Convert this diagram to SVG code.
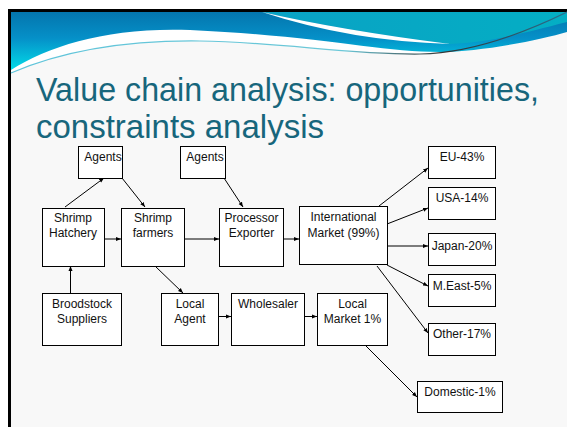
<svg xmlns="http://www.w3.org/2000/svg" width="567" height="427" viewBox="0 0 567 427">
<style>
.box{fill:#fff;stroke:#000;stroke-width:1}
.t{font-family:"Liberation Sans",Arial,sans-serif;font-size:12px;text-anchor:middle;fill:#111}
.title{font-family:"Liberation Sans",Arial,sans-serif;font-size:33px;fill:#17667c}
.c{stroke:#000;stroke-width:1;fill:none;marker-end:url(#ah)}
</style>
<defs>
<marker id="ah" viewBox="0 0 10 10" refX="10" refY="5" markerWidth="5" markerHeight="5" orient="auto" markerUnits="userSpaceOnUse"><path d="M0,1 L10,5 L0,9 Z" fill="#000"/></marker>
<linearGradient id="hg" gradientUnits="userSpaceOnUse" x1="0" y1="12" x2="0" y2="70">
<stop offset="0" stop-color="#0475ad"/><stop offset="0.45" stop-color="#0590c8"/><stop offset="1" stop-color="#02dbe8"/>
</linearGradient>
<linearGradient id="tg" gradientUnits="userSpaceOnUse" x1="262" y1="0" x2="567" y2="0">
<stop offset="0" stop-color="#0aa2c4"/><stop offset="1" stop-color="#04aec4"/>
</linearGradient>
<linearGradient id="lg" gradientUnits="userSpaceOnUse" x1="11" y1="0" x2="567" y2="0">
<stop offset="0" stop-color="#5fc4da"/><stop offset="0.6" stop-color="#6cc8d8"/><stop offset="0.78" stop-color="#333"/><stop offset="1" stop-color="#2a6f90"/>
</linearGradient>
</defs>
<rect x="0" y="0" width="567" height="427" fill="#fff"/>
<rect x="8" y="9" width="559" height="418" fill="#000"/>
<rect x="11" y="12" width="556" height="415" fill="#f8f8f8"/>
<path d="M11,73 C60,52 120,40 200,41 C280,42 350,55 420,54 C470,53 520,35 567,12 V12 H11 Z" fill="#fff"/>
<path d="M11,12 H567 V32 C540,40 480,52 440,52 C380,52 320,36 190,30 C110,27 50,45 11,70 Z" fill="url(#hg)"/>
<path d="M262,12 H567 V22 C520,34 490,42 450,44 Q340,30 262,12 Z" fill="url(#tg)"/>
<path d="M262,12 Q340,30 450,44 Q350,41 262,12 Z" fill="#fff"/>
<path d="M11,73 C60,52 120,40 200,41 C280,42 350,55 420,54 C470,53 520,35 567,12" fill="none" stroke="url(#lg)" stroke-width="1.2"/>
<text class="title" x="36" y="101" textLength="503" lengthAdjust="spacingAndGlyphs">Value chain analysis: opportunities,</text>
<text class="title" x="36" y="138">constraints analysis</text>
<g id="connectors">
<path class="c" d="M65,207 L104,178"/>
<path class="c" d="M122,178 L145,207"/>
<path class="c" d="M224,178 L243,207"/>
<path class="c" d="M104,239 L121,239"/>
<path class="c" d="M184,239 L219,239"/>
<path class="c" d="M283,239 L299,239"/>
<path class="c" d="M70.5,293 L70.5,266"/>
<path class="c" d="M155,266 L183,293"/>
<path class="c" d="M218,316.5 L231,316.5"/>
<path class="c" d="M304,316.5 L317,316.5"/>
<path class="c" d="M379,206 L428,168"/>
<path class="c" d="M387,224 L428,208"/>
<path class="c" d="M387,246 L428,246"/>
<path class="c" d="M387,265 L428,286"/>
<path class="c" d="M377,266 L428,333"/>
<path class="c" d="M365,345 L417,397"/>
</g>
<g id="agents1"><rect class="box" x="78.5" y="146.5" width="44" height="32"/><text class="t" x="103" y="161">Agents</text></g>
<g id="agents2"><rect class="box" x="180.5" y="146.5" width="45" height="32"/><text class="t" x="205" y="161">Agents</text></g>
<g id="hatchery"><rect class="box" x="42.5" y="208.5" width="62" height="58"/><text class="t" x="73" y="222">Shrimp</text><text class="t" x="73" y="237">Hatchery</text></g>
<g id="farmers"><rect class="box" x="121.5" y="208.5" width="63" height="58"/><text class="t" x="153" y="222">Shrimp</text><text class="t" x="153" y="237">farmers</text></g>
<g id="processor"><rect class="box" x="219.5" y="208.5" width="64" height="58"/><text class="t" x="251.5" y="222">Processor</text><text class="t" x="251.5" y="237">Exporter</text></g>
<g id="international"><rect class="box" x="299.5" y="206.5" width="88" height="58"/><text class="t" x="343.5" y="221">International</text><text class="t" x="343.5" y="237">Market (99%)</text></g>
<g id="broodstock"><rect class="box" x="42.5" y="293.5" width="79" height="52"/><text class="t" x="82" y="308">Broodstock</text><text class="t" x="82" y="323">Suppliers</text></g>
<g id="localagent"><rect class="box" x="161.5" y="293.5" width="57" height="52"/><text class="t" x="190" y="308">Local</text><text class="t" x="190" y="323">Agent</text></g>
<g id="wholesaler"><rect class="box" x="231.5" y="293.5" width="73" height="52"/><text class="t" x="268" y="308">Wholesaler</text></g>
<g id="localmarket"><rect class="box" x="317.5" y="293.5" width="70" height="52"/><text class="t" x="352.5" y="308">Local</text><text class="t" x="352.5" y="323">Market 1%</text></g>
<g id="eu"><rect class="box" x="428.5" y="146.5" width="67" height="32"/><text class="t" x="462" y="161">EU-43%</text></g>
<g id="usa"><rect class="box" x="428.5" y="187.5" width="67" height="32"/><text class="t" x="462" y="202">USA-14%</text></g>
<g id="japan"><rect class="box" x="428.5" y="233.5" width="67" height="32"/><text class="t" x="462" y="250">Japan-20%</text></g>
<g id="meast"><rect class="box" x="428.5" y="274.5" width="67" height="32"/><text class="t" x="462" y="290">M.East-5%</text></g>
<g id="other"><rect class="box" x="428.5" y="323.5" width="67" height="32"/><text class="t" x="462" y="338">Other-17%</text></g>
<g id="domestic"><rect class="box" x="417.5" y="381.5" width="85" height="31"/><text class="t" x="460" y="396">Domestic-1%</text></g>
</svg>
